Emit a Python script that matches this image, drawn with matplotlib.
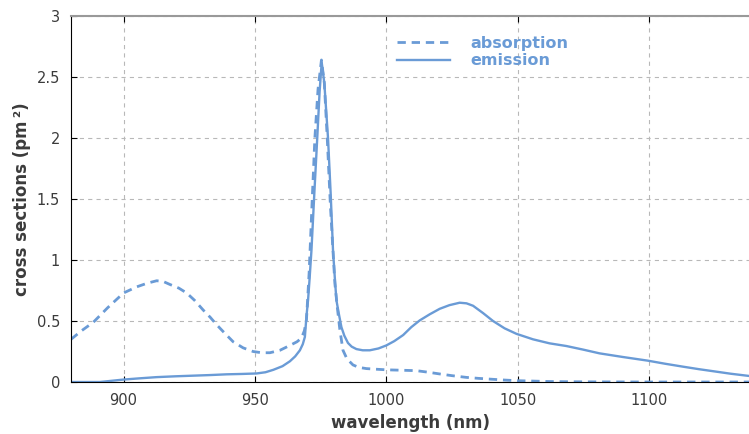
import numpy as np
import matplotlib.pyplot as plt

# wavelength (nm) and cross sections (pm^2)
wl_abs = [880, 884, 888.5, 894, 900, 905, 909, 912.6, 915, 917.6, 921, 924, 927,
          930.3, 933, 935.4, 938.5, 941.7, 945.5, 949.3, 952.5, 955.7, 959.5,
          963.3, 966, 967.7, 968.8, 969.6, 970.6, 971.7, 972.8, 974, 975.3, 976.4,
          977.5, 978.7, 980.4, 981.4, 982.3, 983.5, 985, 987.3, 989.5, 992.4,
          996, 1000, 1005, 1011.4, 1016, 1020.3, 1025, 1030.4, 1035, 1040.6,
          1045, 1049.5, 1055, 1062, 1070, 1080, 1100, 1120, 1138]
absorption = [0.35, 0.42, 0.49, 0.61, 0.73, 0.78, 0.81, 0.83, 0.825, 0.80, 0.77,
              0.73, 0.67, 0.59, 0.53, 0.47, 0.40, 0.33, 0.28, 0.25, 0.24, 0.24,
              0.26, 0.30, 0.33, 0.36, 0.42, 0.51, 0.89, 1.45, 2.0, 2.4, 2.64, 2.45,
              2.0, 1.45, 0.81, 0.6, 0.43, 0.26, 0.19, 0.14, 0.12, 0.11, 0.105,
              0.10, 0.097, 0.093, 0.08, 0.066, 0.052, 0.038, 0.03, 0.022, 0.016,
              0.011, 0.008, 0.004, 0.002, 0.001, 0.0, 0.0, 0.0]

wl_em = [880, 891, 900, 906, 912.6, 920, 926.5, 933, 939.2, 945, 950.6, 954,
         957, 960.5, 963.3, 965.3, 967.1, 968.2, 969, 969.6, 970.2, 970.8, 971.5,
         972.6, 973.7, 974.6, 975.4, 976.4, 977.8, 978.8, 979.7, 980.4, 981,
         982, 982.9, 984, 985.4, 986.8, 988.6, 991, 993.7, 997, 1000, 1003,
         1006.4, 1009.5, 1012.7, 1016.5, 1020.3, 1024, 1027.9, 1030.5, 1033,
         1036.8, 1040.6, 1045, 1049.5, 1055.8, 1062.1, 1068.5, 1075, 1081.1,
         1090, 1099.5, 1106, 1112.8, 1119, 1125.5, 1131, 1137.9]
emission = [0.0, 0.0, 0.02, 0.03, 0.04, 0.047, 0.052, 0.057, 0.063, 0.066, 0.07,
            0.08, 0.1, 0.13, 0.17, 0.21, 0.26, 0.31, 0.37, 0.54, 0.67, 0.85,
            1.08, 1.55, 2.0, 2.38, 2.62, 2.45, 2.0, 1.55, 1.08, 0.85, 0.67, 0.55,
            0.45, 0.38, 0.32, 0.29, 0.27, 0.26, 0.26, 0.275, 0.30, 0.335, 0.385,
            0.45, 0.505, 0.555, 0.60, 0.63, 0.65, 0.645, 0.625, 0.565, 0.50, 0.44,
            0.395, 0.35, 0.317, 0.295, 0.265, 0.235, 0.205, 0.175, 0.15, 0.126,
            0.105, 0.085, 0.068, 0.05]

blue = '#6a9bd6'
txt = '#3b3b3b'

plt.rcParams['lines.scale_dashes'] = False

fig = plt.figure(figsize=(7.49, 4.34), dpi=100)
ax = fig.add_axes([0.0948, 0.1198, 0.9052, 0.8432])

ax.plot(wl_abs, absorption, color=blue, lw=2, dashes=(6, 4.2), label='absorption')
ax.plot(wl_em, emission, color=blue, lw=1.7, label='emission')

ax.set_xlim(880, 1138)
ax.set_ylim(0, 3)
ax.set_xticks([900, 950, 1000, 1050, 1100])
ax.set_yticks([0, 0.5, 1, 1.5, 2, 2.5, 3])
ax.set_yticklabels(['0', '0.5', '1', '1.5', '2', '2.5', '3'])
ax.tick_params(direction='in', length=4, top=True, labelsize=10.5, labelcolor=txt,
               pad=8)
ax.grid(True, color='#b8b8b8', linestyle=(0, (3, 3)), lw=0.8)

for s in ['left', 'bottom']:
    ax.spines[s].set_color('black')
ax.spines['top'].set_color('#999999')
ax.spines['top'].set_linewidth(1.5)
ax.spines['right'].set_visible(False)

ax.set_xlabel('wavelength (nm)', fontsize=12, fontweight='bold', color=txt, labelpad=4)
ax.set_ylabel('cross sections (pm\u2009²)', fontsize=12, fontweight='bold', color=txt,
              labelpad=4)

leg = ax.legend(loc='upper left', bbox_to_anchor=(0.46, 0.985), frameon=False,
                handlelength=3.3, handletextpad=1.3, labelspacing=0.15,
                prop={'size': 11.5, 'weight': 'bold'})
for t in leg.get_texts():
    t.set_color(blue)

fig.savefig('out.png', dpi=100)
